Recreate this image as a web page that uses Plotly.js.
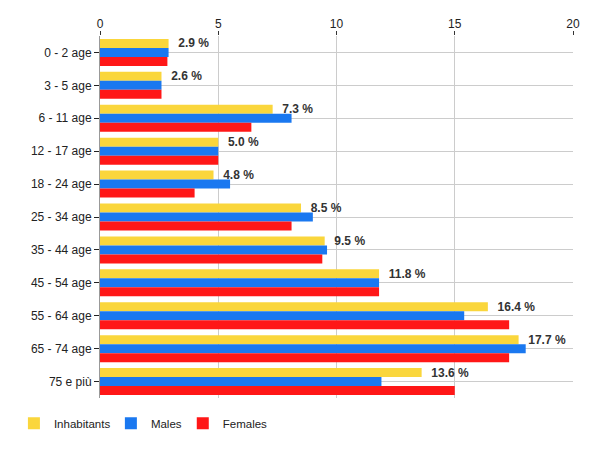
<!DOCTYPE html>
<html>
<head>
<meta charset="utf-8">
<script src="https://cdn.plot.ly/plotly-3.0.1.min.js"></script>
<style>
  html, body { margin: 0; padding: 0; background: #fff; }
  #chart { width: 600px; height: 450px; }
</style>
</head>
<body>
<div id="chart"></div>
<script>
const ageGroups = ['0 - 2 age', '3 - 5 age', '6 - 11 age', '12 - 17 age', '18 - 24 age',
  '25 - 34 age', '35 - 44 age', '45 - 54 age', '55 - 64 age', '65 - 74 age', '75 e più'];
const inhabitants = [2.9, 2.6, 7.3, 5.0, 4.8, 8.5, 9.5, 11.8, 16.4, 17.7, 13.6];
const males = [2.9, 2.6, 8.1, 5.0, 5.5, 9.0, 9.6, 11.8, 15.4, 18.0, 11.9];
const females = [2.85, 2.6, 6.4, 5.0, 4.0, 8.1, 9.4, 11.8, 17.3, 17.3, 15.0];
const xTicks = [0, 5, 10, 15, 20];

const font = 'Arial, "Liberation Sans", sans-serif';

const trace1 = {
  y: ageGroups,
  x: inhabitants,
  type: 'bar',
  orientation: 'h',
  name: 'Inhabitants',
  legend: 'legend',
  marker: { color: '#fad63c' },
  texttemplate: '  <b>%{x:.1f} %</b>',
  textposition: 'outside',
  constraintext: 'none',
  cliponaxis: false,
  textfont: { family: font, size: 12, color: '#333333' }
};

const trace2 = {
  y: ageGroups,
  x: males,
  type: 'bar',
  orientation: 'h',
  name: 'Males',
  legend: 'legend2',
  marker: { color: '#1a78f0' }
};

const trace3 = {
  y: ageGroups,
  x: females,
  type: 'bar',
  orientation: 'h',
  name: 'Females',
  legend: 'legend3',
  marker: { color: '#ff1717' }
};

// one legend box per series so each entry sits where it does in the original
function legendAt(x) {
  return {
    orientation: 'h',
    x: x,
    xanchor: 'left',
    y: -0.03,
    yanchor: 'top',
    font: { family: font, size: 11.5, color: '#222222' }
  };
}

const layout = {
  width: 600,
  height: 450,
  margin: { l: 100, r: 27, t: 36, b: 48 },
  paper_bgcolor: '#ffffff',
  plot_bgcolor: '#ffffff',
  font: { family: font, size: 12, color: '#222222' },
  barmode: 'group',
  bargap: 0.18,
  bargroupgap: 0,
  showlegend: true,
  legend: legendAt(-0.182),
  legend2: legendAt(0.023),
  legend3: legendAt(0.175),
  xaxis: {
    side: 'top',
    range: [0, 20],
    tickvals: xTicks,
    ticktext: xTicks.map(String),
    ticks: 'outside',
    ticklen: 4,
    tickcolor: '#333333',
    ticklabelstandoff: -2,
    showgrid: true,
    gridcolor: '#cccccc',
    zeroline: false,
    showline: false,
    tickfont: { family: font, size: 12, color: '#222222' }
  },
  yaxis: {
    type: 'category',
    autorange: 'reversed',
    ticks: 'outside',
    ticklen: 5,
    tickcolor: '#222222',
    showgrid: true,
    gridcolor: '#cccccc',
    showline: true,
    linecolor: '#999999',
    linewidth: 1,
    tickfont: { family: font, size: 12, color: '#222222' }
  }
};

Plotly.newPlot('chart', [trace1, trace2, trace3], layout, { displayModeBar: false, staticPlot: true });
</script>
</body>
</html>
